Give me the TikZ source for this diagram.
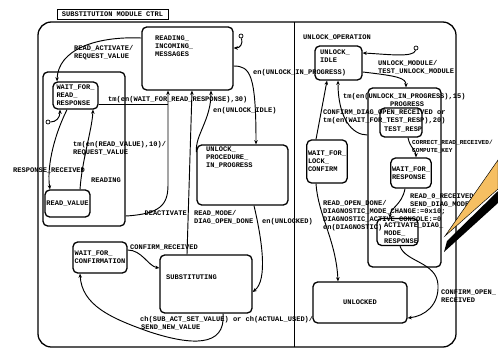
\documentclass[tikz,border=0pt]{standalone}
\usepackage{fontspec}
\setmonofont{Liberation Mono}
\usetikzlibrary{arrows.meta,calc}
\definecolor{pencilorange}{HTML}{F6BF62}
\tikzset{
  stbox/.style={draw, line width=1.1pt, rounded corners=4pt, inner sep=1pt, align=left,
    font=\fontsize{6}{6.8}\selectfont\ttfamily\bfseries},
  lbl/.style={inner sep=0pt, align=left, font=\fontsize{6}{6.8}\selectfont\ttfamily\bfseries},
  tr/.style={line width=0.8pt, -{Stealth[length=3.5pt,width=3pt]}},
  dflt/.style={circle, draw, line width=0.6pt, inner sep=0pt, minimum size=1.2mm},
}

\begin{document}
\begin{tikzpicture}[x=0.3mm,y=-0.3mm]
  \useasboundingbox (0,0) rectangle (498,352);
  \clip (0,0) rectangle (498,352);

  % Frame
  \draw[line width=1.1pt, rounded corners=4mm] (38,22) rectangle (456,347);
  \draw[line width=0.8pt] (294,22) -- (294,347);
  \node[lbl, draw, line width=0.6pt, inner sep=1.5pt, minimum width=33.3mm, minimum height=3mm] (title) at (112.5,14) {SUBSTITUTION MODULE CTRL};

  % Substitution side
  \node[stbox, minimum width=27.3mm, minimum height=18.9mm] (rim) at (187.5,58.5) {};
  \node[lbl, anchor=north west] (rim-t) at (155,36) {READING\_\\INCOMING\_\\MESSAGES};
  \node[stbox, minimum width=24.6mm, minimum height=46.2mm] (reading) at (84,149) {};
  \node[lbl] (reading-t) at (106,180) {READING};
  \node[stbox, minimum width=13.5mm, minimum height=8.1mm] (wfrr) at (75.5,95.5) {WAIT\_FOR\_\\READ\_\\RESPONSE};
  \node[stbox, minimum width=13.5mm, minimum height=8.1mm] (rval) at (67.5,203.5) {READ\_VALUE};
  \node[stbox, minimum width=27.3mm, minimum height=18mm] (upip) at (242.5,175) {};
  \node[lbl, anchor=north west] (upip-t) at (206,147) {UNLOCK\_\\PROCEDURE\_\\IN\_PROGRESS};
  \node[stbox, minimum width=16.2mm, minimum height=9.3mm] (wfc) at (100,257.5) {WAIT\_FOR\_\\CONFIRMATION};
  \node[stbox, minimum width=27.6mm, minimum height=17.4mm] (subst) at (206,284) {};
  \node[lbl, anchor=west] (subst-t) at (166,277) {SUBSTITUTING};
  \node[dflt] (d0) at (241,36) {};
  \node[dflt] (d1) at (48,122) {};

  % Unlock side
  \node[lbl, anchor=west] (uop-t) at (303,38) {UNLOCK\_OPERATION};
  \node[stbox, minimum width=14.1mm, minimum height=10.2mm] (uidle) at (338.5,63) {};
  \node[lbl, anchor=north west] (uidle-t) at (320,50) {UNLOCK\_\\IDLE};
  \node[stbox, minimum width=21.9mm, minimum height=53.7mm] (uip) at (404.5,177.5) {};
  \node[lbl, anchor=west] (uip-t) at (390,104) {PROGRESS};
  \node[stbox, minimum width=12.6mm, minimum height=8.7mm] (wftr) at (401,122.5) {};
  \node[lbl, anchor=west] (wftr-t) at (384,130) {TEST\_RESP};
  \node[stbox, minimum width=11.4mm, minimum height=9mm] (wfr) at (411,173) {WAIT\_FOR\_\\RESPONSE};
  \node[stbox, minimum width=12.3mm, minimum height=8.1mm] (adm) at (397.5,232) {};
  \node[lbl, anchor=north west] (adm-t) at (384,223) {ACTIVATE\_DIAG\_\\MODE\_\\RESPONSE};
  \node[stbox, minimum width=12mm, minimum height=12.9mm] (wflc) at (327,161.5) {WAIT\_FOR\_\\LOCK\_\\CONFIRM};
  \node[stbox, minimum width=28.2mm, minimum height=12.3mm] (unl) at (360,302.5) {UNLOCKED};
  \node[dflt] (d2) at (416,48) {};

  % Transitions, substitution side
  \coordinate (j1) at (168,104);
  \draw[tr] (d0) .. controls (243,44) and (240,48) .. (rim.east |- 0,48);
  \draw[tr] (rim.west |- 0,38) .. controls (95,36) and (58,50) .. (57,0 |- wfrr.north);
  \draw[tr] (d1) .. controls (56,122) and (60,118) .. (60,0 |- wfrr.south);
  \draw[tr] (67,0 |- wfrr.south) .. controls (52,140) and (47,170) .. (50,0 |- rval.north);
  \draw[tr] (80,0 |- rval.north) .. controls (82,160) and (92,130) .. (93,0 |- wfrr.south);
  \draw[line width=0.8pt] (wfrr.east |- j1) -- (j1);
  \draw[tr] (reading.east |- 0,216) .. controls (160,214) and (168,205) .. (168,185) -- (168,0 |- rim.south);
  \draw[tr] (187,0 |- subst.north) -- (192,0 |- rim.south);
  \draw[tr] (upip.west |- 0,152) .. controls (195,135) and (211,120) .. (211,0 |- rim.south);
  \draw[tr] (rim.east |- 0,66) .. controls (250,66) and (256,74) .. (256,0 |- upip.north);
  \draw[tr] (254,0 |- upip.south) .. controls (262,240) and (268,280) .. (subst.east |- 0,292);
  \draw[tr] (wfc.east |- 0,250) .. controls (142,250) and (148,266) .. (subst.west |- 0,268);
  \draw[tr] (223,0 |- subst.south) .. controls (226,348) and (190,345) .. (150,332)
    .. controls (110,318) and (82,305) .. (80,0 |- wfc.south);

  % Transitions, unlock side
  \draw[tr] (d2) .. controls (414,58) and (385,54) .. (uidle.east |- 0,53);
  \draw[tr] (uidle.east |- 0,72) .. controls (398,76) and (406,78) .. (406,0 |- uip.north);
  \draw[tr] (uip.west |- 0,135) .. controls (352,135) and (338,118) .. (338,0 |- uidle.south);
  \draw[tr] (316,0 |- wflc.north) -- (327,0 |- uidle.south);
  \draw[tr] (408,0 |- wftr.south) .. controls (410,148) and (416,150) .. (416,0 |- wfr.north);
  \draw[tr] (405,0 |- wfr.south) .. controls (402,205) and (390,208) .. (390,0 |- adm.north);
  \draw[tr] (400,0 |- adm.south) .. controls (405,262) and (437,262) .. (438,285)
    .. controls (439,305) and (425,316) .. (unl.east |- 0,318);
  \draw[tr] (316,0 |- wflc.south) .. controls (318,215) and (336,240) .. (338,0 |- unl.north);

  % Labels
  \node[lbl, anchor=north west] (l-ract) at (74,45) {READ\_ACTIVATE/\\REQUEST\_VALUE};
  \node[lbl, anchor=west] (l-tmwait) at (108,100) {tm(en(WAIT\_FOR\_READ\_RESPONSE),30)};
  \node[lbl, anchor=west] (l-uidle) at (213,111) {en(UNLOCK\_IDLE)};
  \node[lbl, anchor=west] (l-uinp) at (253,73) {en(UNLOCK\_IN\_PROGRESS)};
  \node[lbl, anchor=north west] (l-tmread) at (73,141) {tm(en(READ\_VALUE),10)/\\REQUEST\_VALUE};
  \node[lbl, anchor=west] (l-resp) at (13,171) {RESPONSE\_RECEIVED};
  \node[lbl, anchor=east] (l-deact) at (187,213) {DEACTIVATE};
  \node[lbl, anchor=north west] (l-rmode) at (194,210) {READ\_MODE/\\DIAG\_OPEN\_DONE};
  \node[lbl, anchor=west] (l-unl) at (262,222) {en(UNLOCKED)};
  \node[lbl, anchor=south west] (l-conf) at (130,250) {CONFIRM\_RECEIVED};
  \node[lbl, anchor=west] (l-ch) at (140,320) {ch(SUB\_ACT\_SET\_VALUE) or ch(ACTUAL\_USED)/};
  \node[lbl, anchor=west] (l-send) at (141,328) {SEND\_NEW\_VALUE};
  \node[lbl, anchor=west] (l-tmuip) at (343,97) {tm(en(UNLOCK\_IN\_PROGRESS),15)};
  \node[lbl, anchor=north west] (l-umod) at (378,60) {UNLOCK\_MODULE/\\TEST\_UNLOCK\_MODULE};
  \node[lbl, anchor=north west] (l-cdiag) at (323,110) {CONFIRM\_DIAG\_OPEN\_RECEIVED or\\tm(en(WAIT\_FOR\_TEST\_RESP),20)};
  \node[lbl, anchor=north west, font=\fontsize{5.2}{6.8}\selectfont\ttfamily\bfseries] (l-corr) at (412,140) {CORRECT\_READ\_RECEIVED/\\COMPUTE\_KEY};
  \node[lbl, anchor=north west] (l-read0) at (410,193) {READ\_0\_RECEIVED/\\SEND\_DIAG\_MODE};
  \node[lbl, anchor=north west] (l-ropen) at (323,200) {READ\_OPEN\_DONE/\\DIAGNOSTIC\_MODE\_CHANGE:=0x10;\\DIAGNOSTIC\_ACTIVE\_CONSOLE:=0\\en(DIAGNOSTIC)};
  \node[lbl, anchor=north west] (l-copen) at (441,290) {CONFIRM\_OPEN\_\\RECEIVED};

  % Pencil tip
  \filldraw[fill=pencilorange, draw=black, line width=0.4pt] (498,160) -- (445,236) -- (498,189) -- cycle;
  \fill[black] (498,191) -- (447,241) -- (444,252) -- (498,203) -- cycle;
\end{tikzpicture}
\end{document}
